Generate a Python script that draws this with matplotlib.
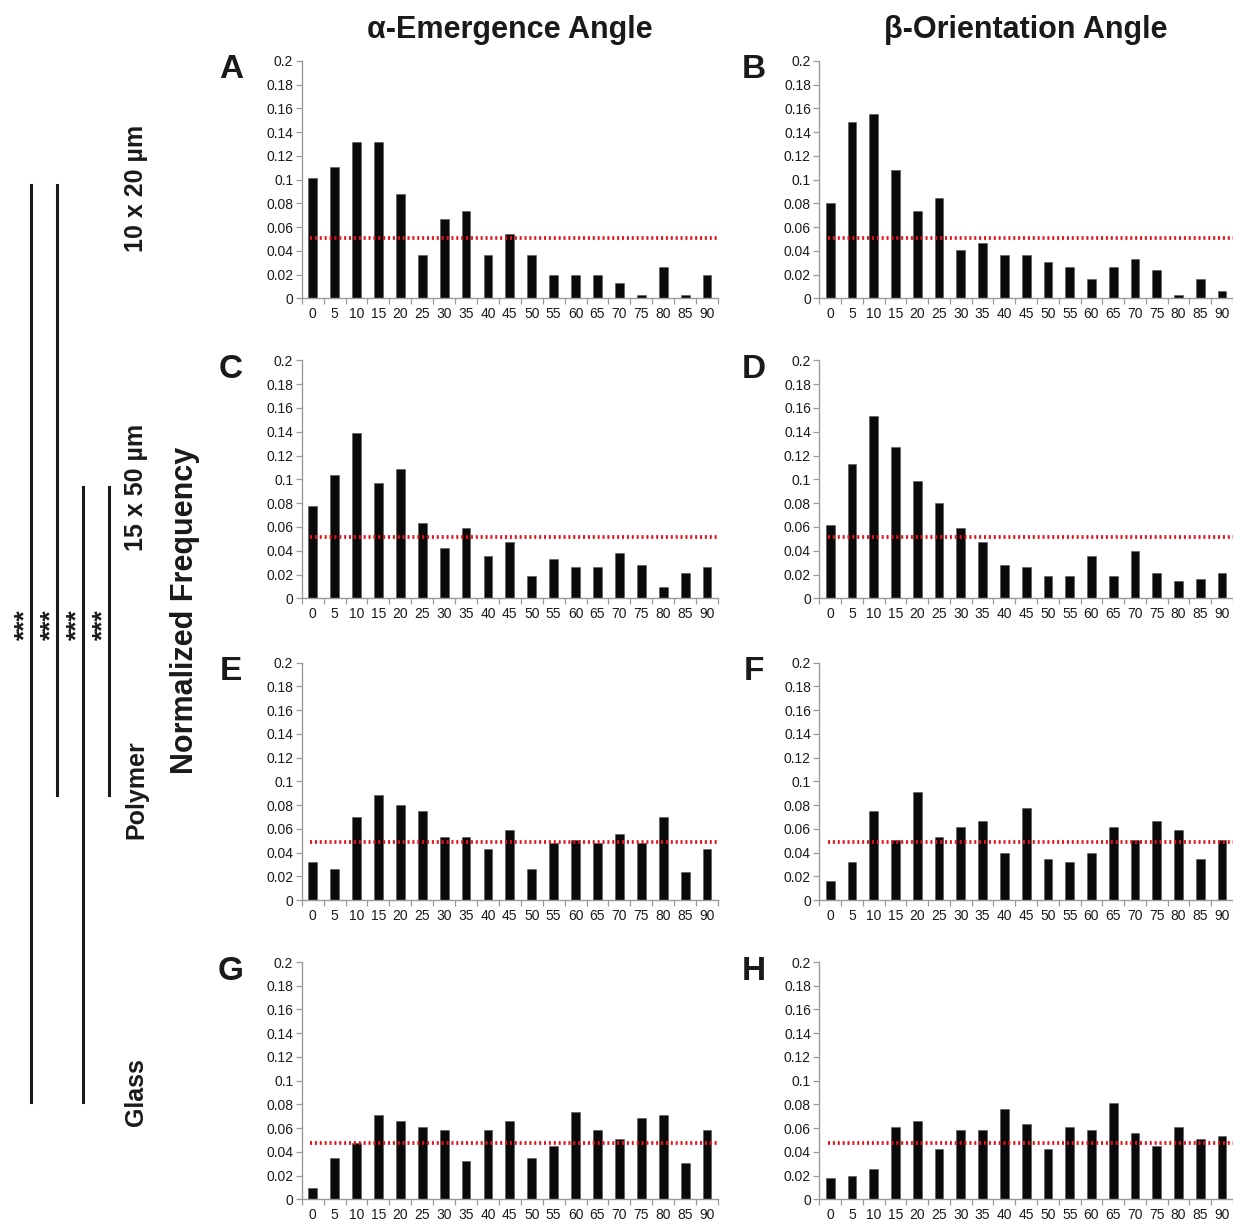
import matplotlib
matplotlib.use("Agg")
import matplotlib.pyplot as plt
import numpy as np

plt.rcParams['font.family'] = ['Liberation Sans', 'DejaVu Sans']

angles = [0, 5, 10, 15, 20, 25, 30, 35, 40, 45, 50, 55, 60, 65, 70, 75, 80, 85, 90]
angle_labels = [str(a) for a in angles]

alpha_10x20 = [0.101, 0.111, 0.1315, 0.1315, 0.0876, 0.0368, 0.0671, 0.0739, 0.0368, 0.0539,
               0.0368, 0.0197, 0.0197, 0.0197, 0.0132, 0.0031, 0.0267, 0.0031, 0.0197]
beta_10x20 = [0.0806, 0.1486, 0.1553, 0.1079, 0.0739, 0.0843, 0.0404, 0.0469, 0.0368, 0.0368,
              0.0303, 0.0267, 0.0166, 0.0267, 0.0334, 0.0236, 0.0031, 0.0166, 0.0065]
alpha_15x50 = [0.0779, 0.1036, 0.1389, 0.0966, 0.1084, 0.0636, 0.0423, 0.0588, 0.0353, 0.0471,
               0.0188, 0.0328, 0.0261, 0.0261, 0.0378, 0.0283, 0.0092, 0.0213, 0.0261]
beta_15x50 = [0.0613, 0.1132, 0.1532, 0.1272, 0.0989, 0.0801, 0.0588, 0.0471, 0.0283, 0.0261,
              0.0188, 0.0188, 0.0353, 0.0188, 0.0401, 0.0213, 0.0143, 0.0165, 0.0213]
alpha_polymer = [0.0317, 0.0264, 0.0697, 0.0882, 0.0803, 0.075, 0.0531, 0.0531, 0.0427, 0.0587,
                 0.0264, 0.048, 0.0506, 0.048, 0.0559, 0.048, 0.0697, 0.0239, 0.0427]
beta_polymer = [0.0157, 0.0317, 0.075, 0.0506, 0.091, 0.0531, 0.0612, 0.0669, 0.0399, 0.0775,
                0.0346, 0.0317, 0.0399, 0.0612, 0.0506, 0.0669, 0.0587, 0.0346, 0.0506]
alpha_glass = [0.0098, 0.0351, 0.0478, 0.0708, 0.0657, 0.0607, 0.0581, 0.0326, 0.0581, 0.0657,
               0.0351, 0.0452, 0.0733, 0.0581, 0.0506, 0.0683, 0.0708, 0.0303, 0.0581]
beta_glass = [0.0177, 0.0199, 0.0253, 0.0607, 0.0657, 0.0427, 0.0581, 0.0581, 0.0758, 0.0632,
              0.0427, 0.0607, 0.0581, 0.0809, 0.0556, 0.0452, 0.0607, 0.0506, 0.0531]

uniform_ref = [0.0511, 0.0511, 0.0492, 0.0478]  # per row

row_labels = ["10 x 20 µm", "15 x 50 µm", "Polymer", "Glass"]
col_titles = ["α-Emergence Angle", "β-Orientation Angle"]
panel_letters = [["A", "B"], ["C", "D"], ["E", "F"], ["G", "H"]]
yticks = [0, 0.02, 0.04, 0.06, 0.08, 0.1, 0.12, 0.14, 0.16, 0.18, 0.2]
y_label = "Normalized Frequency"
sig_text = "***"

data = [[alpha_10x20, beta_10x20],
        [alpha_15x50, beta_15x50],
        [alpha_polymer, beta_polymer],
        [alpha_glass, beta_glass]]

W, H = 1233, 1222
fig = plt.figure(figsize=(W / 100, H / 100), dpi=100)

col_x = [(301.7, 416.3), (819.3, 413.7)]
row_y = [(61, 298.3), (360.3, 598.3), (662.7, 900), (962, 1199.3)]

axis_gray = '#9a9a9a'
for r in range(4):
    for c in range(2):
        x0, w = col_x[c]
        top, bot = row_y[r]
        ax = fig.add_axes([x0 / W, 1 - bot / H, w / W, (bot - top) / H])
        x = np.arange(len(angles))
        ax.bar(x, data[r][c], width=0.4, color='#0a0a0a', edgecolor='#555555', linewidth=0.4, zorder=2)
        ax.axhline(uniform_ref[r], xmin=0.02, xmax=1.0, color='#e8141c', linewidth=2.7,
                   linestyle=(0, (0.55, 0.75)), zorder=3)
        ax.set_xlim(-0.5, len(angles) - 0.5)
        ax.set_ylim(0, 0.2)
        ax.set_yticks(yticks)
        ax.set_yticklabels([f"{v:g}" for v in yticks])
        ax.set_xticks(x)
        ax.set_xticklabels(angle_labels)
        ax.set_xticks(np.arange(-0.5, len(angles)), minor=True)
        ax.tick_params(axis='x', which='major', length=0, pad=6.5, labelsize=10, labelcolor='#1a1a1a')
        ax.tick_params(axis='x', which='minor', length=4, width=0.9, color=axis_gray, direction='out')
        ax.tick_params(axis='y', which='major', length=4, width=0.9, color=axis_gray, direction='out',
                       pad=2, labelsize=10, labelcolor='#1a1a1a')
        for s in ['top', 'right']:
            ax.spines[s].set_visible(False)
        for s in ['left', 'bottom']:
            ax.spines[s].set_color(axis_gray)
            ax.spines[s].set_linewidth(1.0)
        ax.set_facecolor('none')

# column titles
for c, t in enumerate(col_titles):
    x0, w = col_x[c]
    fig.text((x0 + w / 2) / W, 1 - 30 / H, t, ha='center', va='center',
             fontsize=22, fontweight='bold', color='#1a1a1a')

# panel letters
letter_x = [231, 754]
letter_y = [70, 370, 671, 972]
for r in range(4):
    for c in range(2):
        fig.text(letter_x[c] / W, 1 - letter_y[r] / H, panel_letters[r][c], ha='center', va='center',
                 fontsize=24, fontweight='bold', color='#1a1a1a')

# y label
fig.text(185 / W, 1 - 610 / H, y_label, rotation=90, ha='center', va='center',
         fontsize=22, fontweight='bold', color='#1a1a1a')

# row labels
row_label_y = [188, 487, 790, 1092]
for lab, yy in zip(row_labels, row_label_y):
    fig.text(136 / W, 1 - yy / H, lab, rotation=90, ha='center', va='center',
             fontsize=18, fontweight='bold', color='#1a1a1a')

# significance brackets
bracket_x = [31, 57, 83, 109]
bracket_span = [(185, 1102), (185, 795), (487, 1102), (487, 795)]
for bx, (y0, y1) in zip(bracket_x, bracket_span):
    fig.add_artist(plt.Line2D([bx / W, bx / W], [1 - y0 / H, 1 - y1 / H], color='#1a1a1a',
                              linewidth=2.2, transform=fig.transFigure))
    fig.text((bx - 6) / W, 1 - 625 / H, sig_text, rotation=90, ha='center', va='center',
             fontsize=19, fontweight='bold', color='#1a1a1a')

fig.savefig("out.png", dpi=100, facecolor='white')
